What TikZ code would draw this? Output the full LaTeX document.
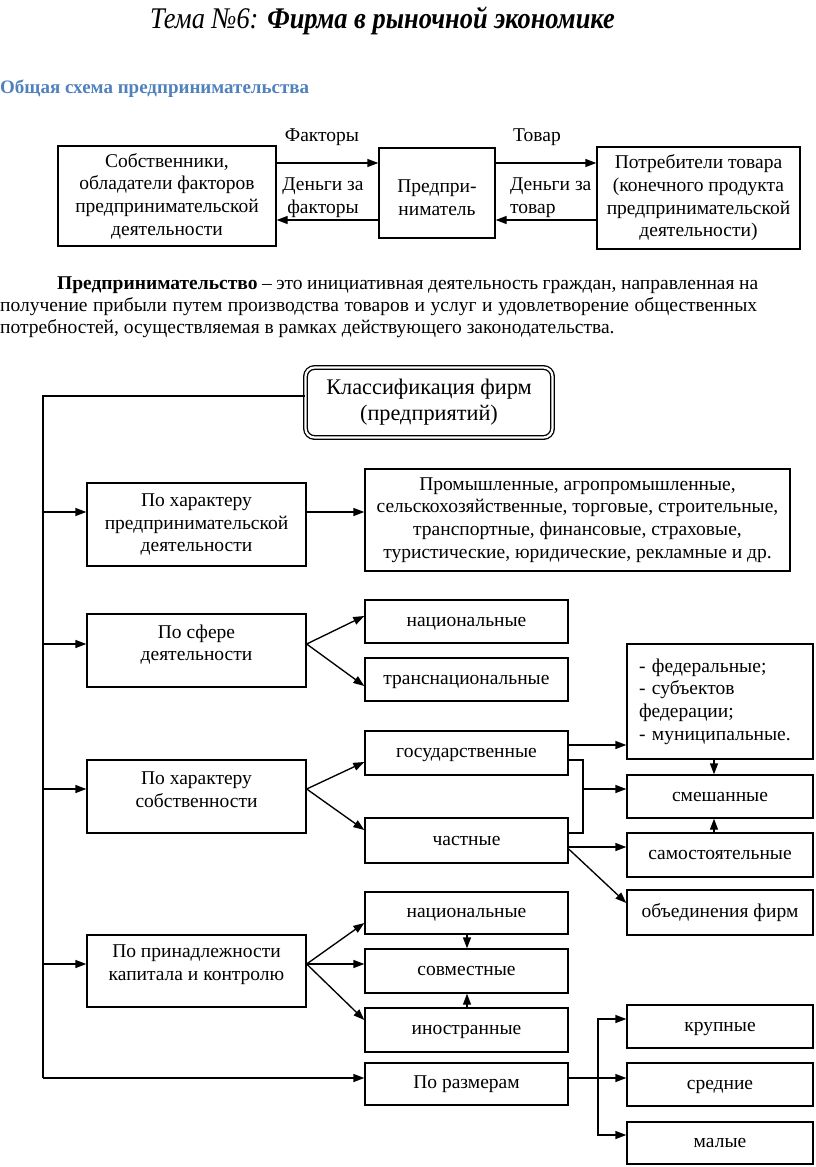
\documentclass[tikz,border=0pt]{standalone}
\usepackage{fontspec}
\setmainfont{Liberation Serif}
\usetikzlibrary{arrows.meta,calc}
\newcommand\fs{\fontsize{19.5}{22.7}\selectfont}
\newcommand\fsc{\fontsize{22.3}{26}\selectfont}
\definecolor{headblue}{RGB}{79,129,189}
\begin{document}
\begin{tikzpicture}[x=1pt,y=-1pt,
  box/.style={draw, line width=1.35pt, inner sep=0pt, align=center, font=\fs},
  lbl/.style={align=center, font=\fs, inner sep=0pt},
  txt/.style={font=\fs, inner sep=0pt},
  arr/.style={line width=1.35pt, -{Triangle[length=11pt,width=8pt]}},
  ln/.style={line width=1.35pt}]
\useasboundingbox (0,0) rectangle (816,1167);

% title
\node[anchor=base west, inner sep=0pt, font=\fontsize{30}{34}\selectfont\itshape] (title) at (150,28) {\scalebox{0.88}[1]{Тема №6: \textbf{Фирма в рыночной экономике}}};
\node[anchor=base west, inner sep=0pt, font=\fontsize{19}{22}\selectfont\bfseries, text=headblue] (head) at (0,93) {Общая схема предпринимательства};

% top scheme
\node[box, minimum width=218, minimum height=100] (own) at (167,196) {Собственники,\\обладатели факторов\\предпринимательской\\деятельности};
\node[box, minimum width=116, minimum height=90, label={[lbl, name=entt, yshift=-5pt]center:{Предпри-\\ниматель}}] (ent) at (437,193) {};
\node[box, minimum width=203, minimum height=102] (cons) at (698.5,198) {Потребители товара\\(конечного продукта\\предпринимательской\\деятельности)};
\draw[arr] (own.east |- 0,163) -- (ent.west |- 0,163);
\draw[arr] (ent.west |- 0,220) -- (own.east |- 0,220);
\draw[arr] (ent.east |- 0,163) -- (cons.west |- 0,163);
\draw[arr] (cons.west |- 0,220) -- (ent.east |- 0,220);
\node[txt] (f1) at (322,137) {Факторы};
\node[lbl] (f2) at (323,198) {Деньги за\\факторы};
\node[txt] (t1) at (537,137) {Товар};
\node[lbl, align=left, anchor=west] (t2) at (510,198) {Деньги за\\товар};

% paragraph
\node[txt, anchor=base west] (p1) at (57,289) {\makebox[701pt][s]{\textbf{Предпринимательство} – это инициативная деятельность граждан, направленная на}};
\node[txt, anchor=base west] (p2) at (0,311) {\makebox[757pt][s]{получение прибыли путем производства товаров и услуг и удовлетворение общественных}};
\node[txt, anchor=base west] (p3) at (0,333) {потребностей, осуществляемая в рамках действующего законодательства.};

% classification
\node[box, rounded corners=9pt, double, double distance=2.2pt, minimum width=247, minimum height=70, font=\fsc] (cls) at (429,402.5) {Классификация фирм\\(предприятий)};
\coordinate (tt) at (43,396);
\coordinate (tb) at (43,1078);
\draw[ln] (cls.west |- tt) -- (tt) -- (tb);

% left column
\node[box, minimum width=219, minimum height=83] (L1) at (196.5,524.5) {По характеру\\предпринимательской\\деятельности};
\node[box, minimum width=219, minimum height=73, label={[lbl, name=L2t, yshift=6pt]center:{По сфере\\деятельности}}] (L2) at (196.5,650.5) {};
\node[box, minimum width=219, minimum height=73, label={[lbl, name=L3t, yshift=6.5pt]center:{По характеру\\собственности}}] (L3) at (196.5,796.5) {};
\node[box, minimum width=219, minimum height=72, label={[lbl, name=L4t, yshift=6.5pt]center:{По принадлежности\\капитала и контролю}}] (L4) at (196.5,971) {};

% middle column
\node[box, minimum width=425, minimum height=102] (R1) at (577.5,520) {Промышленные, агропромышленные,\\сельскохозяйственные, торговые, строительные,\\транспортные, финансовые, страховые,\\туристические, юридические, рекламные и др.};
\tikzset{mbox/.style={box, minimum width=203, text height=13.5pt, text depth=4.5pt}}
\node[mbox, minimum height=43] (R2a) at (466.5,621.5) {национальные};
\node[mbox, minimum height=43] (R2b) at (466.5,679.5) {транснациональные};
\node[mbox, minimum height=44] (R3a) at (466.5,753) {государственные};
\node[mbox, minimum height=45] (R3b) at (466.5,840.5) {частные};
\node[mbox, minimum height=42] (R4a) at (466.5,913) {национальные};
\node[mbox, minimum height=44] (R4b) at (466.5,971) {совместные};
\node[mbox, minimum height=44] (R4c) at (466.5,1030) {иностранные};
\node[mbox, minimum height=42] (R5) at (466.5,1084) {По размерам};

% right column
\tikzset{rbox/.style={box, minimum width=186, text height=13.5pt, text depth=4.5pt}}
\node[box, minimum width=186, minimum height=115, text width=162pt, align=left, inner xsep=12pt] (F) at (720,701.5) {- федеральные;\\- субъектов\\федерации;\\- муниципальные.};
\node[rbox, minimum height=43] (Mix) at (720,796.5) {смешанные};
\node[rbox, minimum height=44] (Ind) at (720,855) {самостоятельные};
\node[rbox, minimum height=45] (Uni) at (720,912.5) {объединения фирм};
\node[rbox, minimum height=43] (Lg) at (720,1026.5) {крупные};
\node[rbox, minimum height=43] (Md) at (720,1084.5) {средние};
\node[rbox, minimum height=42] (Sm) at (720,1143) {малые};

% trunk arrows
\draw[arr] (tt |- 0,512) -- (L1.west |- 0,512);
\draw[arr] (tt |- 0,644) -- (L2.west |- 0,644);
\draw[arr] (tt |- 0,789) -- (L3.west |- 0,789);
\draw[arr] (tt |- 0,964) -- (L4.west |- 0,964);
\draw[arr] (tb) -- (R5.west |- tb);

% L1
\draw[arr] (L1.east |- 0,512) -- (R1.west |- 0,512);
% L2
\draw[arr] (L2.east |- 0,644) -- (R2a.west |- 0,616);
\draw[arr] (L2.east |- 0,644) -- (R2b.west |- 0,686);
% L3
\draw[arr] (L3.east |- 0,789) -- (R3a.west |- 0,762);
\draw[arr] (L3.east |- 0,789) -- (R3b.west |- 0,830);
\draw[arr] (R3a.east |- 0,745) -- (F.west |- 0,745);
\coordinate (bk1) at (583,760);
\coordinate (bk2) at (583,833);
\coordinate (bkm) at (583,789);
\draw[ln] (R3a.east |- bk1) -- (bk1) -- (bk2) -- (R3b.east |- bk2);
\draw[arr] (bkm) -- (Mix.west |- bkm);
\draw[arr] (R3b.east |- 0,847) -- (Ind.west |- 0,847);
\draw[arr] (R3b.east |- 0,849) -- (Uni.west |- 0,903);
\draw[arr] (F.south -| 714,0) -- (Mix.north -| 714,0);
\draw[arr] (Ind.north -| 714,0) -- (Mix.south -| 714,0);
% L4
\draw[arr] (L4.east |- 0,964) -- (R4a.west |- 0,923);
\draw[arr] (L4.east |- 0,964) -- (R4b.west |- 0,964);
\draw[arr] (L4.east |- 0,964) -- (R4c.west |- 0,1020);
\draw[arr] (R4a.south -| 467,0) -- (R4b.north -| 467,0);
\draw[arr] (R4c.north -| 467,0) -- (R4b.south -| 467,0);
% sizes
\coordinate (sz1) at (598,1019);
\coordinate (sz2) at (598,1135);
\draw[arr] (R5.east |- tb) -- (Md.west |- tb);
\draw[line width=1.35pt, {Triangle[length=11pt,width=8pt]}-{Triangle[length=11pt,width=8pt]}] (Lg.west |- sz1) -- (sz1) -- (sz2) -- (Sm.west |- sz2);
\end{tikzpicture}
\end{document}
